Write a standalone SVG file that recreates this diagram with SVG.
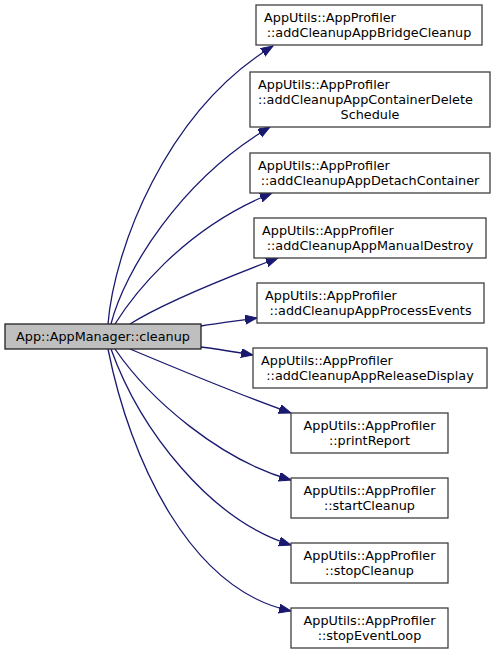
<svg xmlns="http://www.w3.org/2000/svg" width="496" height="656" viewBox="0 0 496 656">
<style>
.n rect{fill:#ffffff;stroke:#404040;stroke-width:1.3}
.m rect{fill:#bfbfbf;stroke:#202020;stroke-width:1.3}
text{font-family:"DejaVu Sans",sans-serif;font-size:12.8px;fill:#000000}
.s{text-anchor:start}
.c{text-anchor:middle}
#edges path{fill:none;stroke:#191970;stroke-width:1.3;marker-end:url(#ah)}
</style>
<defs>
<marker id="ah" markerUnits="userSpaceOnUse" markerWidth="13" markerHeight="10" refX="12" refY="4.5" orient="auto" viewBox="0 0 13 10">
<path d="M0,0 L12,4.5 L0,9 z" fill="#191970" stroke="#191970" stroke-width="1"/>
</marker>
</defs>
<rect width="496" height="656" fill="#ffffff"/>
<g id="edges">
<path d="M108,324 C114,250 165,112 273,46"/>
<path d="M111,324 C124,272 180,180 270,127"/>
<path d="M115,324 C130,300 180,230 272,193"/>
<path d="M130,324 C160,305 220,280 278,258"/>
<path d="M201,326 C218,323 236,321 257,318"/>
<path d="M201,347 C218,349 235,352 253,355"/>
<path d="M130,349 C180,370 240,395 291,413"/>
<path d="M115,349 C150,400 220,460 291,480"/>
<path d="M111,349 C140,430 210,520 291,545"/>
<path d="M108,349 C130,460 190,590 291,611"/>
</g>
<g id="main" class="m">
<rect x="5" y="324" width="196" height="25"/>
<text class="c" x="103" y="341">App::AppManager::cleanup</text>
</g>
<g id="n1" class="n">
<rect x="256" y="5" width="226" height="40"/>
<text class="s" x="264" y="22">AppUtils::AppProfiler</text>
<text class="c" x="369" y="37">::addCleanupAppBridgeCleanup</text>
</g>
<g id="n2" class="n">
<rect x="250" y="72" width="240" height="55"/>
<text class="s" x="258" y="89">AppUtils::AppProfiler</text>
<text class="s" x="258" y="104">::addCleanupAppContainerDelete</text>
<text class="c" x="370" y="119">Schedule</text>
</g>
<g id="n3" class="n">
<rect x="250" y="153" width="240" height="40"/>
<text class="s" x="258" y="170">AppUtils::AppProfiler</text>
<text class="c" x="370" y="185">::addCleanupAppDetachContainer</text>
</g>
<g id="n4" class="n">
<rect x="254" y="218" width="232" height="40"/>
<text class="s" x="262" y="235">AppUtils::AppProfiler</text>
<text class="c" x="370" y="250">::addCleanupAppManualDestroy</text>
</g>
<g id="n5" class="n">
<rect x="257" y="283" width="227" height="40"/>
<text class="s" x="265" y="300">AppUtils::AppProfiler</text>
<text class="c" x="370.5" y="315">::addCleanupAppProcessEvents</text>
</g>
<g id="n6" class="n">
<rect x="253" y="348" width="234" height="40"/>
<text class="s" x="261" y="365">AppUtils::AppProfiler</text>
<text class="c" x="370" y="380">::addCleanupAppReleaseDisplay</text>
</g>
<g id="n7" class="n">
<rect x="291" y="413" width="157" height="40"/>
<text class="c" x="369.5" y="430">AppUtils::AppProfiler</text>
<text class="c" x="369.5" y="445">::printReport</text>
</g>
<g id="n8" class="n">
<rect x="291" y="478" width="157" height="40"/>
<text class="c" x="369.5" y="495">AppUtils::AppProfiler</text>
<text class="c" x="369.5" y="510">::startCleanup</text>
</g>
<g id="n9" class="n">
<rect x="291" y="543" width="157" height="40"/>
<text class="c" x="369.5" y="560">AppUtils::AppProfiler</text>
<text class="c" x="369.5" y="575">::stopCleanup</text>
</g>
<g id="n10" class="n">
<rect x="291" y="608" width="157" height="40"/>
<text class="c" x="369.5" y="625">AppUtils::AppProfiler</text>
<text class="c" x="369.5" y="640">::stopEventLoop</text>
</g>
</svg>
